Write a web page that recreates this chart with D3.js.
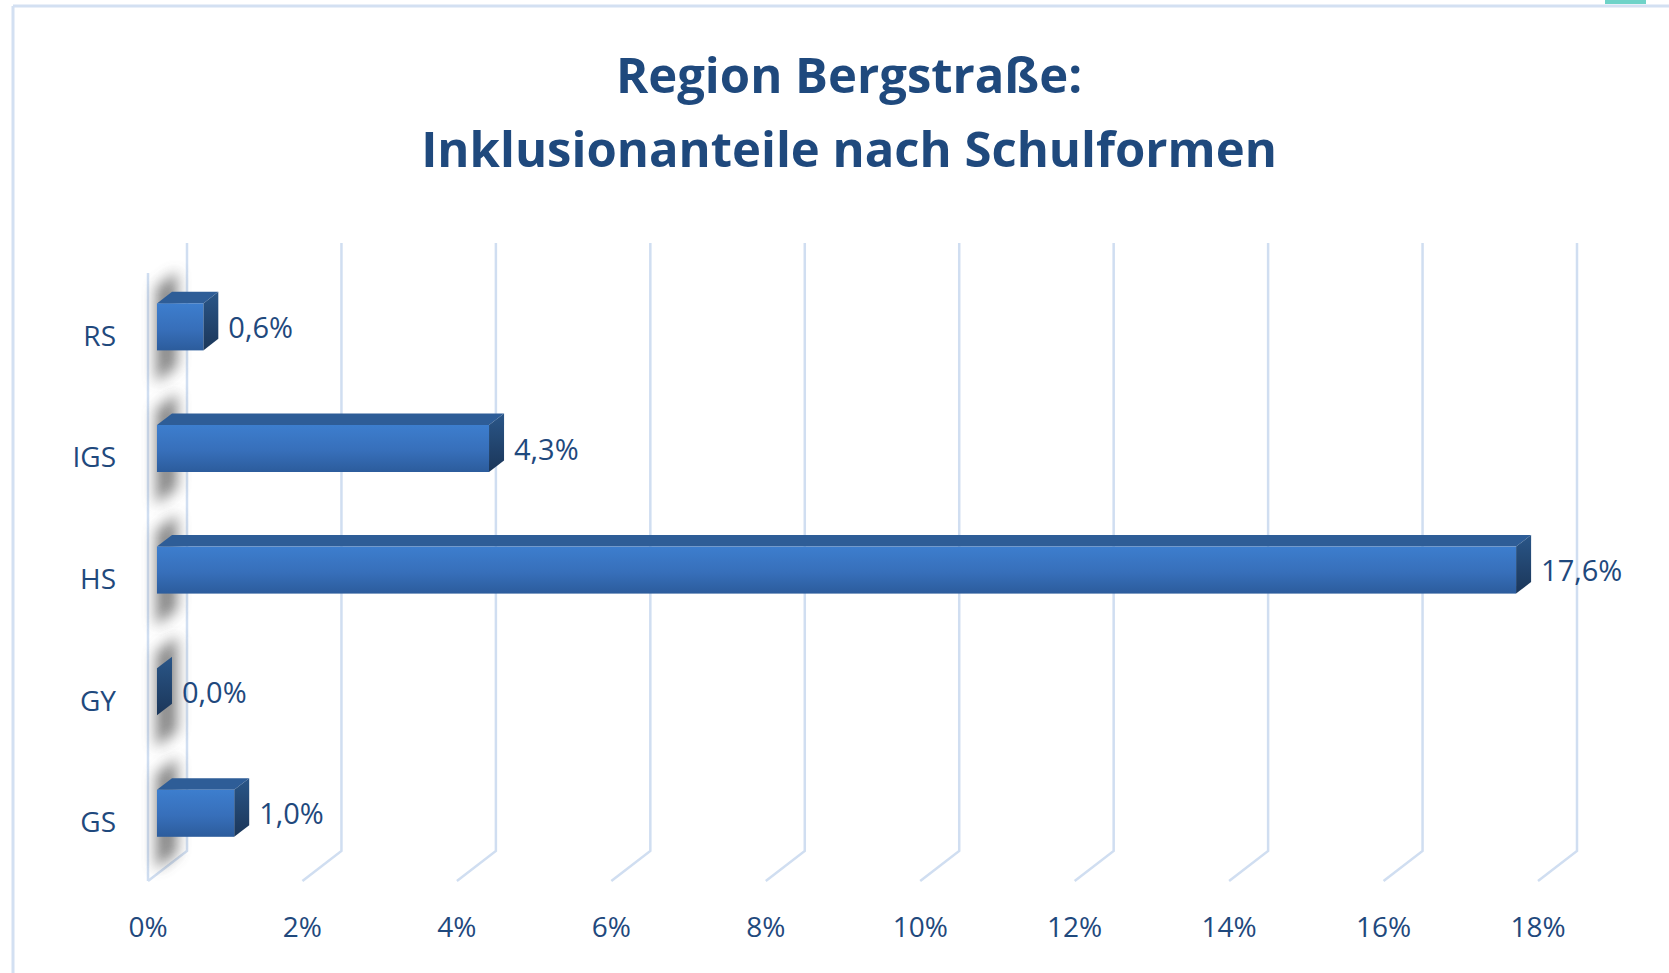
<!DOCTYPE html>
<html>
<head>
<meta charset="utf-8">
<script src="https://cdn.jsdelivr.net/npm/d3@7"></script>
<style>
  body { margin: 0; background: #fff; }
  text { font-family: "Open Sans", "Noto Sans", sans-serif; fill: #1F497D; }
</style>
</head>
<body>
<div id="chart"></div>
<script>
var categories = ['RS', 'IGS', 'HS', 'GY', 'GS'];
var values = [0.6, 4.3, 17.6, 0.0, 1.0];
var ticks = [0, 2, 4, 6, 8, 10, 12, 14, 16, 18];
var titleLines = ['Region Bergstraße:', 'Inklusionanteile nach Schulformen'];

var width = 1669, height = 973;
var depth = { dx: -39, dy: 30 };   // floor depth, back wall -> front
var barFront = 0.77, barBack = 0.385, barHalf = 23.5;

var svg = d3.select('#chart').append('svg')
    .attr('width', width)
    .attr('height', height);

var defs = svg.append('defs');
var gFront = defs.append('linearGradient').attr('id', 'gFront')
    .attr('x1', 0).attr('y1', 0).attr('x2', 0).attr('y2', 1);
gFront.append('stop').attr('offset', '0%').attr('stop-color', '#3D7ECE');
gFront.append('stop').attr('offset', '55%').attr('stop-color', '#376FBA');
gFront.append('stop').attr('offset', '100%').attr('stop-color', '#2C5C9C');
var gSide = defs.append('linearGradient').attr('id', 'gSide')
    .attr('x1', 0).attr('y1', 0).attr('x2', 0).attr('y2', 1);
gSide.append('stop').attr('offset', '0%').attr('stop-color', '#2A5688');
gSide.append('stop').attr('offset', '100%').attr('stop-color', '#1B3659');
defs.append('filter').attr('id', 'blur')
    .attr('x', '-100%').attr('y', '-50%').attr('width', '300%').attr('height', '200%')
    .append('feGaussianBlur').attr('stdDeviation', 7);

// frame
svg.append('line').attr('x1', 13).attr('y1', 6).attr('x2', width).attr('y2', 6)
    .attr('stroke', '#D3E0F2').attr('stroke-width', 3);
svg.append('line').attr('x1', 13).attr('y1', 6).attr('x2', 13).attr('y2', height)
    .attr('stroke', '#D3E0F2').attr('stroke-width', 3);
svg.append('rect').attr('x', 1605).attr('y', 0).attr('width', 41).attr('height', 4)
    .attr('fill', '#6FD3C8');

// title
svg.append('g').selectAll('text')
    .data(titleLines)
    .enter()
    .append('text')
    .attr('x', 849)
    .attr('y', function (d, i) { return 93 + i * 74; })
    .attr('text-anchor', 'middle')
    .style('font-size', '49px')
    .style('font-weight', 'bold')
    .text(function (d) { return d; });

var x = d3.scaleLinear().domain([0, 18]).range([187, 1577]);
var y = d3.scaleBand().domain(categories).range([243, 851]);

function pt(v, yy, t) {
  return [x(v) + t * depth.dx, yy + t * depth.dy];
}

var yTop = y.range()[0], yBottom = y.range()[1];
var grid = svg.append('g');
grid.selectAll('polyline')
    .data(ticks)
    .enter()
    .append('polyline')
    .attr('points', function (d) {
      return [pt(d, yTop, 0), pt(d, yBottom, 0), pt(d, yBottom, 1)].join(' ');
    })
    .attr('fill', 'none')
    .attr('stroke', '#D0DEF1')
    .attr('stroke-width', 2.5);
// front edge of the side wall
grid.append('line')
    .attr('x1', pt(0, yTop, 1)[0]).attr('y1', pt(0, yTop, 1)[1])
    .attr('x2', pt(0, yBottom, 1)[0]).attr('y2', pt(0, yBottom, 1)[1])
    .attr('stroke', '#D0DEF1')
    .attr('stroke-width', 2.5);

// tick labels
svg.append('g').selectAll('text')
    .data(ticks)
    .enter()
    .append('text')
    .attr('x', function (d) { return pt(d, yBottom, 1)[0]; })
    .attr('y', 937)
    .attr('text-anchor', 'middle')
    .style('font-size', '28px')
    .text(function (d) { return d + '%'; });

function centre(c) { return y(c) + y.bandwidth() / 2; }

// shadows on the side wall
svg.append('g').selectAll('polygon')
    .data(categories)
    .enter()
    .append('polygon')
    .attr('points', function (c) {
      var cy = centre(c);
      return [pt(0, cy - 40, 0.25), pt(0, cy - 40, 0.8),
              pt(0, cy + 55, 0.8), pt(0, cy + 55, 0.25)].join(' ');
    })
    .attr('fill', '#555')
    .attr('opacity', 0.7)
    .attr('filter', 'url(#blur)');

var bars = svg.append('g').selectAll('g')
    .data(categories)
    .enter()
    .append('g');

bars.append('polygon')
    .attr('points', function (c, i) {
      var cy = centre(c) - barHalf;
      return [pt(0, cy, barFront), pt(values[i], cy, barFront),
              pt(values[i], cy, barBack), pt(0, cy, barBack)].join(' ');
    })
    .attr('fill', '#2E5D97');

bars.append('polygon')
    .attr('points', function (c, i) {
      var cy = centre(c);
      return [pt(values[i], cy - barHalf, barFront), pt(values[i], cy - barHalf, barBack),
              pt(values[i], cy + barHalf, barBack), pt(values[i], cy + barHalf, barFront)].join(' ');
    })
    .attr('fill', 'url(#gSide)');

bars.append('rect')
    .attr('x', function (c) { return pt(0, 0, barFront)[0]; })
    .attr('y', function (c) { return pt(0, centre(c) - barHalf, barFront)[1]; })
    .attr('width', function (c, i) { return x(values[i]) - x(0); })
    .attr('height', barHalf * 2)
    .attr('fill', 'url(#gFront)');

var fmt = function (v) { return v.toFixed(1).replace('.', ',') + '%'; };
bars.append('text')
    .attr('x', function (c, i) { return pt(values[i], 0, barBack)[0] + 10; })
    .attr('y', function (c) { return pt(0, centre(c), barFront)[1] + 11; })
    .style('font-size', '29px')
    .text(function (c, i) { return fmt(values[i]); });

// category labels
svg.append('g').selectAll('text')
    .data(categories)
    .enter()
    .append('text')
    .attr('x', 116)
    .attr('y', function (c) { return centre(c) + 42; })
    .attr('text-anchor', 'end')
    .style('font-size', '28px')
    .text(function (c) { return c; });
</script>
</body>
</html>
